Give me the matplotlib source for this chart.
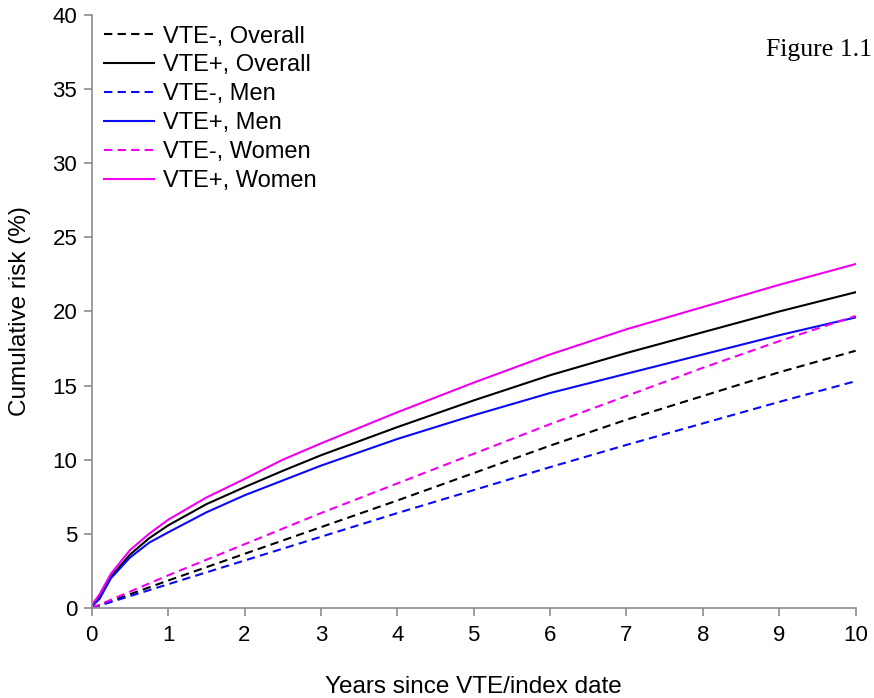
import numpy as np
import matplotlib
matplotlib.use('Agg')
from matplotlib import pyplot as plt

plt.rcParams['font.family'] = ['Liberation Sans', 'DejaVu Sans']

# years since VTE / index date
years = [0, 0.1, 0.25, 0.5, 0.75, 1, 1.5, 2, 2.5, 3, 4, 5, 6, 7, 8, 9, 10]

# cumulative risk (%)
vte_pos_overall = [0.1, 0.7, 2.1, 3.6, 4.7, 5.57, 7.0, 8.15, 9.25, 10.3, 12.2, 14.0, 15.7, 17.2, 18.6, 20.0, 21.3]
vte_pos_men = [0.1, 0.6, 2.0, 3.4, 4.4, 5.1, 6.45, 7.6, 8.6, 9.6, 11.4, 13.0, 14.5, 15.8, 17.1, 18.4, 19.6]
vte_pos_women = [0.2, 0.9, 2.3, 3.9, 5.0, 5.95, 7.45, 8.7, 10.0, 11.1, 13.2, 15.2, 17.1, 18.8, 20.3, 21.8, 23.2]

years_neg = [0, 1, 2, 3, 4, 5, 6, 7, 8, 9, 10]
vte_neg_overall = [0, 1.85, 3.65, 5.45, 7.25, 9.1, 10.95, 12.7, 14.3, 15.9, 17.35]
vte_neg_men = [0, 1.6, 3.2, 4.8, 6.4, 7.95, 9.5, 11.0, 12.45, 13.9, 15.3]
vte_neg_women = [0, 2.2, 4.3, 6.4, 8.4, 10.4, 12.4, 14.3, 16.2, 18.0, 19.7]

blue = '#0a0af5'
magenta = '#f000f0'
dash = (4, 2.5)

fig = plt.figure(figsize=(8.74, 6.98), dpi=100)
ax = fig.add_axes([0.105, 0.129, 0.874, 0.8495])

ax.plot(years_neg, vte_neg_overall, color='black', lw=1.5, dashes=dash, label='VTE-, Overall')
ax.plot(years, vte_pos_overall, color='black', lw=1.5, label='VTE+, Overall')
ax.plot(years_neg, vte_neg_men, color=blue, lw=1.5, dashes=dash, label='VTE-, Men')
ax.plot(years, vte_pos_men, color=blue, lw=1.5, label='VTE+, Men')
ax.plot(years_neg, vte_neg_women, color=magenta, lw=1.5, dashes=dash, label='VTE-, Women')
ax.plot(years, vte_pos_women, color=magenta, lw=1.5, label='VTE+, Women')

ax.set_xlim(0, 10)
ax.set_ylim(0, 40)
ax.set_xticks(np.arange(0, 11, 1))
ax.set_yticks(np.arange(0, 41, 5))
for s in ['top', 'right']:
    ax.spines[s].set_visible(False)
for s in ['left', 'bottom']:
    ax.spines[s].set_color('#8c8c8c')
    ax.spines[s].set_linewidth(1.2)
ax.tick_params(direction='out', length=6, width=1.2, color='#8c8c8c', labelsize=16, pad=4.5)
ax.tick_params(axis='x', pad=6)

ax.set_xlabel('Years since VTE/index date', fontsize=17.5, labelpad=22)
ax.set_ylabel('Cumulative risk (%)', fontsize=17.5, labelpad=15)

leg = ax.legend(loc='upper left', frameon=False, fontsize=17, handlelength=2.12,
                handletextpad=0.42, labelspacing=0.29, borderaxespad=0.0,
                bbox_to_anchor=(0.003, 0.998))

fig.text(0.998, 0.92, 'Figure 1.1', family='Liberation Serif', fontsize=18.5, ha='right', va='baseline')

fig.savefig('out.png', dpi=100)
